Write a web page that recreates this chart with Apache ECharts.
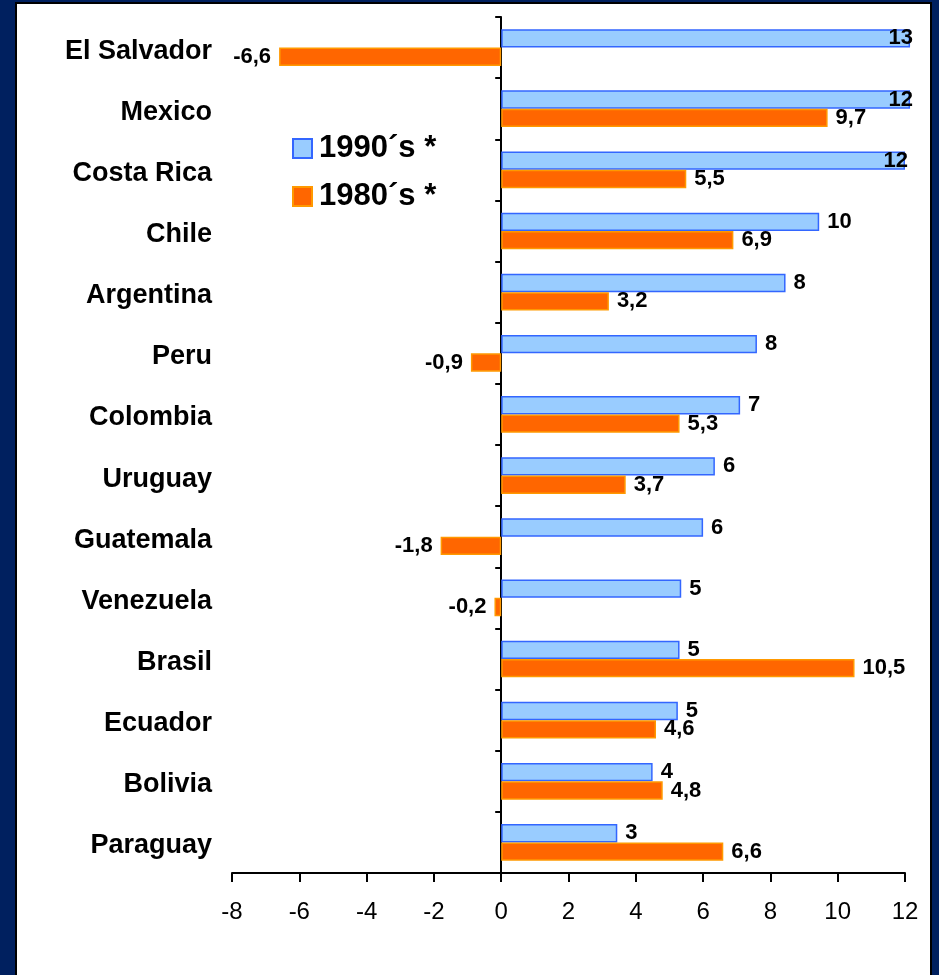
<!DOCTYPE html>
<html>
<head>
<meta charset="utf-8">
<title>growth</title>
<script src="https://cdn.jsdelivr.net/npm/echarts@6/dist/echarts.min.js"></script>
<style>
  html, body {
    margin: 0;
    padding: 0;
    width: 939px;
    height: 975px;
    overflow: hidden;
    background: #00205f;
  }
  .frame {
    position: absolute;
    left: 15px;
    top: 2px;
    width: 913px;
    height: 990px;
    border: 2px solid #000;
    background: #fff;
  }
  .com-chart {
    position: absolute;
    left: 0;
    top: 0;
    width: 939px;
    height: 975px;
  }
</style>
</head>
<body>
<div class="frame"></div>
<div class="com-chart" id="chart_ref"></div>

<script>
// data, top to bottom
const countries = ['El Salvador', 'Mexico', 'Costa Rica', 'Chile', 'Argentina', 'Peru', 'Colombia',
  'Uruguay', 'Guatemala', 'Venezuela', 'Brasil', 'Ecuador', 'Bolivia', 'Paraguay']
// bar lengths of the 1990s series (the printed labels are rounded)
const growth90 = [12.15, 12.15, 12.0, 9.45, 8.45, 7.6, 7.1, 6.35, 6.0, 5.35, 5.3, 5.25, 4.5, 3.45]
const labels90 = ['13', '12', '12', '10', '8', '8', '7', '6', '6', '5', '5', '5', '4', '3']
const growth80 = [-6.6, 9.7, 5.5, 6.9, 3.2, -0.9, 5.3, 3.7, -1.8, -0.2, 10.5, 4.6, 4.8, 6.6]
const xTicks = [-8, -6, -4, -2, 0, 2, 4, 6, 8, 10, 12]
const seriesNames = ['1990´s *', '1980´s *']

const fontName = "'Liberation Sans', Arial, sans-serif"
let chartinstance = null

function initChart() {
  chartinstance = echarts.init(document.getElementById('chart_ref'), null, { renderer: 'canvas' })

  const valueLabel = {
    show: true,
    color: '#000',
    fontFamily: fontName,
    fontWeight: 'bold',
    fontSize: 22,
    distance: 8
  }

  // blue bars: labels to the right, the long ones get squeezed inside the plot edge
  const data90 = growth90.map((v) => {
    return {
      value: v,
      label: v > 11.5 ? { position: 'insideRight', distance: -3 } : { position: 'right' }
    }
  })
  // orange bars: label on the outer end, left side for negative values
  const data80 = growth80.map((v) => {
    return {
      value: v,
      label: { position: v < 0 ? 'left' : 'right' }
    }
  })

  const option = {
    animation: false,
    backgroundColor: 'transparent',
    textStyle: { fontFamily: fontName },
    grid: {
      left: 232,
      right: 34,
      top: 17,
      bottom: 102,
      containLabel: false
    },
    legend: {
      orient: 'vertical',
      left: 292,
      top: 133,
      padding: 0,
      itemGap: 17,
      itemWidth: 19,
      itemHeight: 19,
      icon: 'rect',
      data: seriesNames,
      textStyle: {
        color: '#000',
        fontFamily: fontName,
        fontWeight: 'bold',
        fontSize: 31,
        padding: [0, 0, 0, 2]
      }
    },
    xAxis: {
      type: 'value',
      min: xTicks[0],
      max: xTicks[xTicks.length - 1],
      interval: xTicks[1] - xTicks[0],
      splitLine: { show: false },
      axisLine: { show: true, onZero: false, lineStyle: { color: '#000', width: 2 } },
      axisTick: { show: true, length: 9, lineStyle: { color: '#000', width: 2 } },
      axisLabel: {
        color: '#000',
        fontFamily: fontName,
        fontSize: 24,
        margin: 27,
        formatter: (v) => String(v)
      }
    },
    yAxis: [
      {
        // the zero line with its tick marks
        type: 'category',
        data: countries,
        inverse: true,
        position: 'left',
        axisLine: { show: true, onZero: true, lineStyle: { color: '#000', width: 2 } },
        axisTick: { show: true, inside: false, length: 6, lineStyle: { color: '#000', width: 2 } },
        axisLabel: { show: false },
        splitLine: { show: false }
      },
      {
        // country names at the left of the plot
        type: 'category',
        data: countries,
        inverse: true,
        position: 'left',
        axisLine: { show: false, onZero: false },
        axisTick: { show: false },
        splitLine: { show: false },
        axisLabel: {
          margin: 20,
          formatter: (v) => '{c|' + v + '}',
          rich: {
            c: {
              color: '#000',
              fontFamily: fontName,
              fontWeight: 'bold',
              fontSize: 27,
              padding: [7, 0, 0, 0]
            }
          }
        }
      }
    ],
    series: [
      {
        name: seriesNames[0],
        type: 'bar',
        yAxisIndex: 0,
        data: data90,
        clip: false,
        barGap: '0%',
        barCategoryGap: '40%',
        itemStyle: { color: '#99ccff', borderColor: '#3366ff', borderWidth: 1.5 },
        label: Object.assign({}, valueLabel, {
          formatter: (arg) => labels90[arg.dataIndex]
        })
      },
      {
        name: seriesNames[1],
        type: 'bar',
        yAxisIndex: 0,
        data: data80,
        clip: false,
        barGap: '0%',
        barCategoryGap: '40%',
        itemStyle: { color: '#ff6600', borderColor: '#ff9900', borderWidth: 1.5 },
        label: Object.assign({}, valueLabel, {
          formatter: (arg) => String(arg.value).replace('.', ',')
        })
      }
    ]
  }
  chartinstance.setOption(option)
}

initChart()
</script>
</body>
</html>
